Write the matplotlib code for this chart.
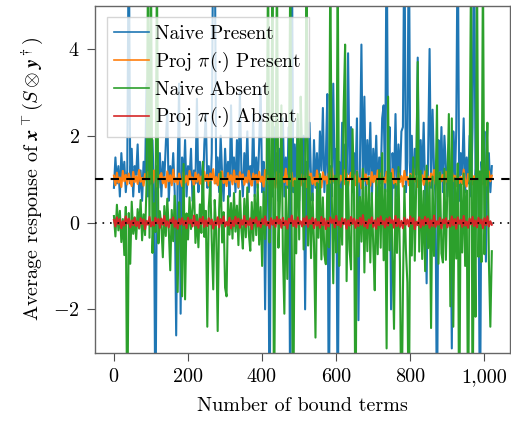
import numpy as np
import matplotlib
matplotlib.use('Agg')
import matplotlib.pyplot as plt
from matplotlib.ticker import FixedLocator, FuncFormatter

plt.rcParams['font.family'] = ['cmr10', 'DejaVu Serif']
plt.rcParams['mathtext.fontset'] = 'cm'
plt.rcParams['axes.formatter.use_mathtext'] = True

# one sample every 4 bound terms
step = 4

naive_present = [
    0.8, 1.5, 0.9, 1.3, 0.6, 1.6, 1.0, 1.4, 0.7, 1.2, 7.0, 0.9, 1.7, 0.6, 1.3, 1.1,
    1.8, 0.7, 1.2, 0.5, 1.4, 1.0, 3.2, 0.6, 1.5, 0.9, 1.9, 0.7, -5.0, 1.3, 0.8, 1.6,
    0.6, 1.4, 1.0, 1.8, 2.6, 0.5, 1.3, 0.9, 1.6, 0.7, -2.6, 1.2, 3.2, -2.1, 1.5, 0.8,
    1.9, 0.6, 1.3, 1.0, 1.7, 0.5, 1.2, 0.9, 2.85, 0.7, 1.4, 1.1, 0.6, 1.8, 2.5, 0.8,
    1.3, 0.6, 1.6, 7.0, 7.0, 0.9, 1.5, 0.7, 2.0, 1.1, 0.5, 1.7, 0.9, 1.4, 0.6, 2.7,
    1.0, 1.5, 0.7, 1.9, 0.8, 3.0, 1.2, 0.6, 1.6, 1.0, 2.1, 0.7, 1.3, 0.9, 2.5, 0.6,
    1.5, 0.8, 1.8, 3.1, 0.7, 1.4, -2.0, 1.1, 1.9, -5.0, 1.3, 0.6, 2.2, 0.9, 1.6, 0.5,
    1.7, 1.0, 2.4, 0.6, 1.5, 0.8, 2.2, -5.0, 7.0, 0.7, 1.8, 1.0, 2.4, 0.5, 1.6, 0.9,
    2.0, -2.0, 1.4, 0.7, 2.3, 1.0, 0.5, 1.9, 0.8, 1.6, 0.6, 2.1, 1.2, 2.64, 0.7, 1.5,
    2.96, -5.0, 1.3, 0.6, 3.2, 0.9, 1.7, -5.0, 1.4, 0.5, 2.3, 1.0, 1.8, 0.6, 3.9, 1.1,
    2.2, 0.7, 1.6, 1.0, 2.4, -2.25, 1.3, 4.1, 0.8, 2.9, 0.6, 1.9, 1.1, 2.3, 0.5, 1.7,
    1.0, 2.0, 0.6, 1.5, 0.9, 2.4, 2.7, 0.7, 7.0, 1.2, 2.2, -2.0, 1.6, 0.8, 2.5, 0.6,
    1.8, 1.0, 2.1, 2.2, 7.0, 0.7, 1.4, 7.0, 0.9, 2.0, 0.5, 1.7, 1.1, 3.8, 0.6, 1.9,
    1.0, 2.3, 0.7, -1.4, 1.5, 4.0, 0.8, 2.6, 1.2, 0.6, -5.0, 1.9, 0.9, 2.2, 0.7, 2.0,
    1.3, 0.6, 1.8, 1.0, -2.9, 2.1, 0.8, 2.15, 7.0, 0.5, 1.6, 1.1, 2.4, 0.7, 1.5, 0.9,
    2.0, 0.6, 2.2, 7.0, 1.0, 1.7, 0.8, -5.0, 1.4, 0.9, 2.1, -0.9, 1.2, 1.6, 0.7, 1.3,
]

proj_present = [
    1.08, 0.86, 1.15, 0.92, 1.04, 0.82, 1.19, 0.95, 1.10, 0.88, 1.13, 0.97, 0.84, 1.17, 0.93, 1.06,
    0.89, 1.21, 0.94, 1.03, 0.85, 1.12, 0.98, 1.16, 0.87, 1.07, 0.91, 1.20, 0.96, 0.83, 1.11, 1.00,
    1.14, 0.90, 1.05, 0.81, 1.18, 0.95, 1.09, 0.86, 1.22, 0.93, 1.02, 0.88, 1.13, 0.97, 0.84, 1.16,
    0.92, 1.08, 0.87, 1.19, 0.99, 1.04, 0.83, 1.15, 0.94, 1.11, 0.89, 1.06, 0.80, 1.17, 0.96, 1.10,
    0.85, 1.13, 0.98, 1.23, 0.90, 1.05, 0.86, 1.12, 0.95, 1.18, 0.91, 1.02, 0.84, 1.14, 0.97, 1.09,
    0.88, 1.20, 0.93, 1.07, 0.82, 1.16, 1.00, 1.11, 0.87, 1.04, 0.92, 1.19, 0.95, 0.85, 1.13, 0.99,
    1.10, 0.86, 1.17, 0.94, 1.06, 0.83, 1.21, 0.97, 1.08, 0.89, 1.14, 0.91, 1.03, 0.80, 1.16, 0.96,
    1.12, 0.88, 1.05, 0.93, 1.24, 0.87, 1.09, 0.95, 1.15, 0.84, 1.02, 0.90, 1.18, 0.98, 0.85, 1.11,
    0.94, 1.07, 0.82, 1.19, 0.96, 1.13, 0.89, 1.04, 0.86, 1.20, 0.93, 1.10, 0.81, 1.16, 0.99, 1.06,
    0.87, 1.14, 0.92, 1.25, 0.95, 1.03, 0.84, 1.17, 0.90, 1.08, 0.97, 1.21, 0.88, 1.12, 0.83, 1.05,
    1.15, 0.91, 1.09, 0.86, 1.18, 0.94, 1.02, 0.79, 1.22, 0.96, 1.11, 0.89, 1.06, 0.85, 1.16, 0.93,
    1.08, 0.84, 1.20, 0.97, 1.13, 0.88, 1.04, 0.92, 1.17, 0.81, 1.10, 0.95, 1.23, 0.90, 1.01, 0.87,
    1.14, 0.93, 1.07, 0.83, 1.19, 0.98, 1.05, 0.86, 1.12, 0.91, 1.24, 0.94, 1.03, 0.82, 1.16, 0.96,
    1.09, 0.87, 1.18, 0.92, 1.06, 0.85, 1.13, 0.97, 1.21, 0.89, 1.04, 0.80, 1.15, 0.95, 1.10, 0.88,
    1.17, 0.93, 1.02, 0.86, 1.20, 0.96, 1.08, 0.84, 1.14, 0.91, 1.05, 0.89, 1.22, 0.97, 0.83, 1.12,
    0.94, 1.16, 0.88, 1.07, 0.82, 1.19, 0.99, 1.10, 0.87, 1.13, 0.92, 1.04, 0.85, 1.18, 0.95, 1.08,
]

naive_absent = [
    0.15, -0.32, 0.41, -0.18, 0.27, -0.45, 0.08, -0.75, 0.36, -5.0, 0.22, -0.95, 0.48, -0.26, 0.12, -0.38,
    0.31, -0.14, 0.52, -0.41, 0.19, -0.29, 0.85, 6.0, -0.35, 6.0, -0.7, 0.44, -0.22, 6.0, -0.48, 0.26,
    -0.09, -0.8, 0.38, -0.31, 0.55, -0.17, -1.1, 0.29, -0.43, 0.62, -0.12, -1.6, 0.47, -0.36, -1.7, 1.35,
    -1.77, 0.21, -0.39, 0.58, -0.15, 0.33, 0.84, -0.47, 0.18, -0.57, 0.42, -0.24, 1.4, -0.33, 0.27, -2.4,
    0.36, 0.93, -0.41, -1.54, 0.52, -0.19, -2.5, 0.31, 1.16, -0.46, 0.24, -1.5, -1.7, 0.61, -0.28, 0.45,
    -0.37, 0.68, -0.21, 0.39, -0.52, 0.73, -0.16, -0.6, 0.55, -0.34, 0.81, -0.25, -0.65, 0.47, -0.42, 0.64,
    -0.29, 0.88, -0.51, 0.36, -1.0, 0.71, -0.38, 0.94, 6.0, -0.46, 0.62, 6.0, -5.0, 0.75, 6.0, -0.58,
    0.49, 2.7, -0.66, -2.1, 0.83, -1.3, 0.57, 6.0, -0.44, -5.0, 0.96, -0.71, 2.5, -0.39, 2.9, 1.6,
    -0.62, 0.78, 6.0, -0.53, 1.05, -0.82, 0.67, -0.48, -2.65, 0.91, -0.35, 1.12, -0.85, 0.58, -0.74, -0.96,
    0.86, -0.57, 6.0, 0.63, -1.4, 1.08, -0.69, 6.0, -1.0, 0.77, -0.51, 2.6, 4.1, -1.35, 0.94, -0.63,
    -1.08, 2.15, 0.71, -5.0, 1.17, -0.78, 0.59, -0.44, 1.24, -1.15, 0.82, -0.66, 1.03, -0.92, 0.68, -0.55,
    -1.56, 0.97, -0.73, 1.21, -0.58, 1.6, -0.87, 0.76, -2.9, 2.9, -0.64, 1.14, -0.81, -2.45, 0.89, -0.7,
    1.28, -0.93, -5.0, -1.6, 0.84, -0.61, -1.38, -5.0, 1.09, -0.76, 1.5, -0.88, 0.95, 3.7, -0.67, 1.19,
    -0.84, 0.73, -1.12, 1.31, -0.59, 0.92, -2.43, 1.06, -0.77, 0.68, 2.7, -0.95, 1.15, -0.71, -0.92, 1.24,
    -0.86, 0.79, 2.5, -1.93, 2.4, -2.4, 1.02, -0.83, 1.36, -5.0, 0.88, -0.69, 1.13, -1.0, 0.74, -5.0,
    1.27, 6.0, -5.0, 0.96, -2.17, 6.0, -0.79, 1.18, -0.91, 6.0, -0.73, 1.08, 2.3, -0.86, -2.4, -0.66,
]

proj_absent = [
    0.06, -0.09, 0.12, -0.04, 0.08, -0.13, 0.03, -0.07, 0.14, -0.02, 0.09, -0.11, 0.05, -0.06, 0.11, -0.08,
    0.02, -0.12, 0.10, -0.03, 0.07, -0.15, 0.04, -0.05, 0.13, -0.09, 0.01, -0.07, 0.11, -0.02, 0.08, -0.12,
    0.09, -0.05, 0.15, -0.08, 0.03, -0.11, 0.07, -0.01, 0.12, -0.10, 0.05, -0.14, 0.08, -0.04, 0.10, -0.06,
    0.04, -0.13, 0.11, -0.02, 0.06, -0.09, 0.16, -0.07, 0.02, -0.12, 0.09, -0.03, 0.13, -0.10, 0.05, -0.08,
    0.10, -0.04, 0.07, -0.14, 0.03, -0.06, 0.12, -0.11, 0.08, -0.02, 0.14, -0.09, 0.01, -0.07, 0.11, -0.13,
    0.05, -0.08, 0.13, -0.03, 0.09, -0.12, 0.06, -0.05, 0.15, -0.10, 0.04, -0.06, 0.10, -0.15, 0.07, -0.01,
    0.12, -0.09, 0.03, -0.11, 0.08, -0.04, 0.14, -0.07, 0.02, -0.13, 0.10, -0.05, 0.06, -0.10, 0.13, -0.03,
    0.07, -0.12, 0.11, -0.06, 0.04, -0.14, 0.09, -0.02, 0.16, -0.08, 0.05, -0.11, 0.12, -0.04, 0.03, -0.09,
    0.10, -0.05, 0.14, -0.10, 0.06, -0.03, 0.11, -0.13, 0.08, -0.07, 0.02, -0.12, 0.13, -0.06, 0.09, -0.15,
    0.04, -0.09, 0.12, -0.01, 0.07, -0.11, 0.15, -0.06, 0.03, -0.10, 0.10, -0.04, 0.08, -0.14, 0.05, -0.07,
    0.13, -0.03, 0.09, -0.12, 0.06, -0.08, 0.11, -0.05, 0.17, -0.09, 0.02, -0.13, 0.07, -0.02, 0.12, -0.10,
    0.05, -0.14, 0.10, -0.06, 0.14, -0.04, 0.03, -0.11, 0.09, -0.07, 0.12, -0.01, 0.06, -0.12, 0.15, -0.08,
    0.08, -0.10, 0.04, -0.13, 0.11, -0.05, 0.07, -0.09, 0.14, -0.03, 0.10, -0.15, 0.02, -0.06, 0.12, -0.11,
    0.06, -0.07, 0.13, -0.04, 0.09, -0.12, 0.05, -0.08, 0.16, -0.10, 0.03, -0.05, 0.11, -0.13, 0.07, -0.02,
    0.10, -0.11, 0.04, -0.09, 0.14, -0.06, 0.08, -0.14, 0.12, -0.03, 0.06, -0.10, 0.15, -0.07, 0.02, -0.12,
    0.09, -0.04, 0.13, -0.08, 0.05, -0.11, 0.11, -0.02, 0.07, -0.13, 0.10, -0.06, 0.14, -0.09, 0.03, -0.05,
]

x_ticks = [0, 200, 400, 600, 800, 1000]
x_ticklabels = ['0', '200', '400', '600', '800', '1,000']
y_ticks = [-2, 0, 2, 4]

bound_terms = 1 + step * np.arange(len(naive_present))

fig = plt.figure(figsize=(5.11, 4.24), dpi=100)
ax = fig.add_axes([0.186, 0.168, 0.812, 0.819])

lw = 1.5
ax.plot(bound_terms, naive_present, color='#1f77b4', lw=lw, label='Naive Present')
ax.plot(bound_terms, proj_present, color='#ff7f0e', lw=lw, label=r'Proj $\pi(\cdot)$ Present')
ax.plot(bound_terms, naive_absent, color='#2ca02c', lw=lw, label='Naive Absent')
ax.plot(bound_terms, proj_absent, color='#d62728', lw=lw, label=r'Proj $\pi(\cdot)$ Absent')

ax.axhline(1, color='black', lw=1.5, ls=(0, (4, 3.5)), zorder=5)
ax.axhline(0, color='black', lw=1.2, ls=(0, (1, 3.5)), zorder=5)

ax.set_xlim(-50, 1070)
ax.set_ylim(-3, 5)

ax.xaxis.set_major_locator(FixedLocator(x_ticks))
ax.set_xticklabels(x_ticklabels)
ax.yaxis.set_major_locator(FixedLocator(y_ticks))
ax.yaxis.set_major_formatter(FuncFormatter(lambda v, p: '$%d$' % v))

for s in ax.spines.values():
    s.set_color('0.4')
    s.set_linewidth(1.0)
ax.tick_params(direction='out', length=6, width=0.8, color='0.3', labelsize=14.5, pad=5)

ax.set_xlabel('Number of bound terms', fontsize=14.5, labelpad=8)
ax.set_ylabel(r'Average response of $\boldsymbol{x}^\top(S\otimes\boldsymbol{y}^\dagger)$', fontsize=14.5, labelpad=5)

leg = ax.legend(loc='upper left', fontsize=14, frameon=True, fancybox=False, framealpha=0.8,
                edgecolor='0.8', handlelength=1.8, handletextpad=0.3, labelspacing=0.35,
                borderpad=0.4, borderaxespad=0.6)
leg.get_frame().set_linewidth(1.0)
for h in leg.get_lines():
    h.set_linewidth(1.2)

fig.savefig('out.png', dpi=100)
